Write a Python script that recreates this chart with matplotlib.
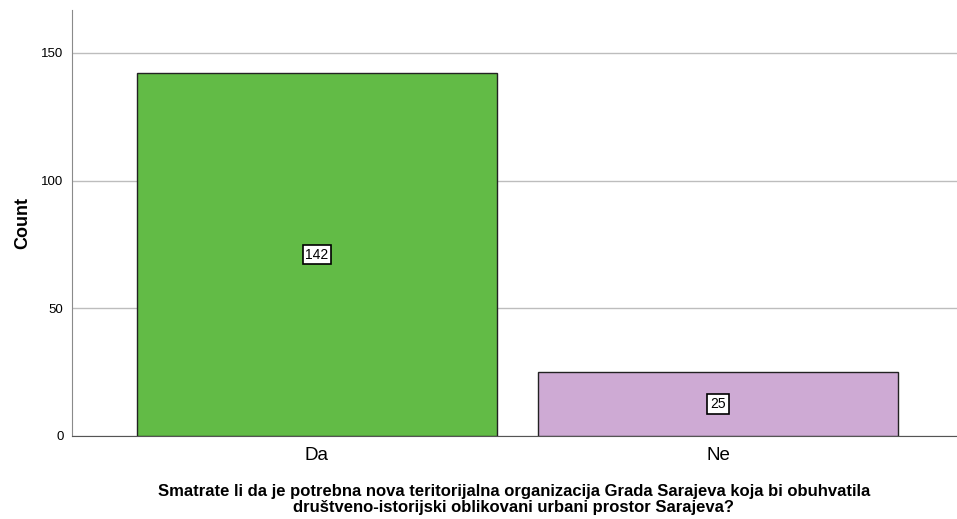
import matplotlib
matplotlib.use("Agg")
import matplotlib.pyplot as plt

categories = ["Da", "Ne"]
counts = [142, 25]
colors = ["#62bb46", "#ceaad4"]
x_title = ("Smatrate li da je potrebna nova teritorijalna organizacija Grada Sarajeva koja bi obuhvatila\n"
           "društveno-istorijski oblikovani urbani prostor Sarajeva?")

plt.rcParams["font.family"] = ["Liberation Sans", "DejaVu Sans"]

fig = plt.figure(figsize=(9.57, 5.19), dpi=100)
ax = fig.add_axes([0.0752, 0.160, 0.9248, 0.821])

pos = list(range(len(categories)))
ax.bar(pos, counts, width=0.9, color=colors, edgecolor="#222222", linewidth=1.0, zorder=3)
for p, c in zip(pos, counts):
    ax.text(p, c / 2, str(c), ha="center", va="center", fontsize=10, zorder=4,
            bbox=dict(boxstyle="square,pad=0.2", facecolor="white", edgecolor="black", linewidth=1.2))

ax.set_xlim(-0.611, 1.596)
ax.set_ylim(0, 166.8)
ax.set_yticks([0, 50, 100, 150])
ax.set_xticks(pos)
ax.set_xticklabels(categories, fontsize=13.5)
ax.tick_params(axis="y", length=0, labelsize=9.5, pad=6)
ax.tick_params(axis="x", length=0, pad=8)
ax.yaxis.grid(True, color="#bdbdbd", linewidth=1.0, zorder=0)
ax.set_axisbelow(True)

for s in ["top", "right"]:
    ax.spines[s].set_visible(False)
ax.spines["left"].set_color("#8a8a8a")
ax.spines["bottom"].set_color("#555555")

ax.set_ylabel("Count", fontsize=13, fontweight="bold", labelpad=7)

# x axis title placed under the tick labels
fig.text(0.537, 1 - 499.5 / 519, x_title, ha="center", va="center",
         fontsize=12, fontweight="bold", linespacing=1.12)

fig.savefig("out.png", dpi=100)
